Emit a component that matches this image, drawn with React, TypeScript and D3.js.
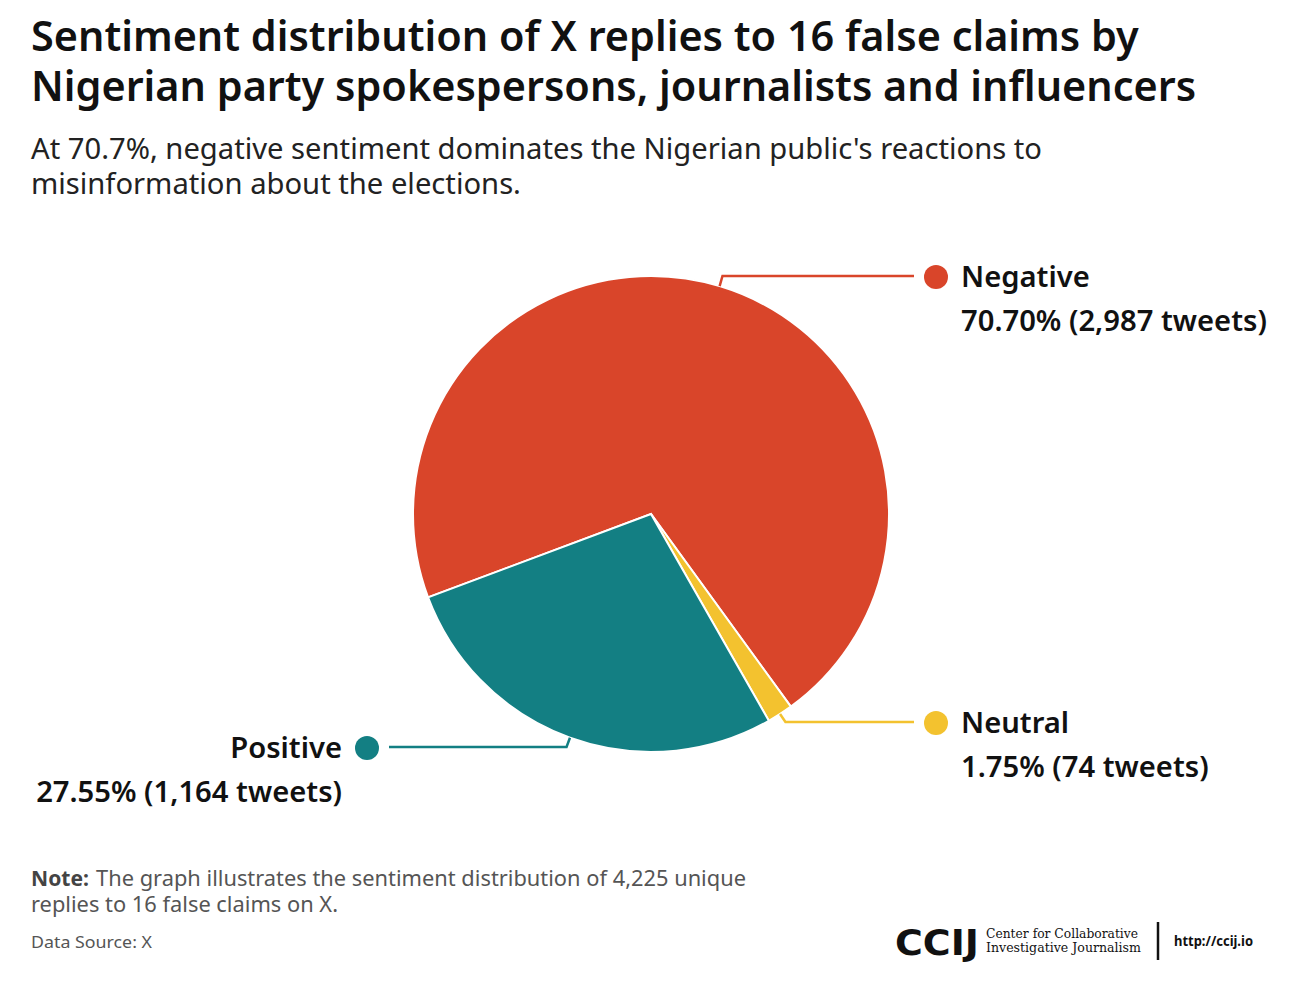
import React from "react";
import * as d3 from "d3";

const categories = ["Negative", "Neutral", "Positive"];
const tweetCounts = [2987, 74, 1164];
const percentLabels = ["70.70%", "1.75%", "27.55%"];
const countLabels = ["2,987", "74", "1,164"];
const colors = ["#d9452a", "#f3c22f", "#137f83"];

const W = 1295;
const H = 987;
const cx = 651;
const cy = 514;
const R = 238;
const FONT = "'Noto Sans', 'Open Sans', sans-serif";

export default function App() {
  const startDeg = -110.5;
  const pie = d3
    .pie<number>()
    .sort(null)
    .value((d) => d)
    .startAngle((startDeg * Math.PI) / 180)
    .endAngle((startDeg * Math.PI) / 180 + 2 * Math.PI);
  const arcs = pie(tweetCounts);
  const arcGen = d3.arc<d3.PieArcDatum<number>>().innerRadius(0).outerRadius(R);

  const layout: Record<string, { dx: number; dy: number; side: "right" | "left" }> = {
    Negative: { dx: 936, dy: 277, side: "right" },
    Neutral: { dx: 936, dy: 723, side: "right" },
    Positive: { dx: 367, dy: 748, side: "left" },
  };

  return (
    <svg width={W} height={H} style={{ position: "absolute", left: 0, top: 0, background: "#fff" }}>
      <rect width={W} height={H} fill="#fff" />
      <g fontFamily={FONT} fill="#111">
        <text x={31} y={51} fontSize={41.4} fontWeight={600}>
          Sentiment distribution of X replies to 16 false claims by
        </text>
        <text x={31} y={101} fontSize={41.4} fontWeight={600}>
          Nigerian party spokespersons, journalists and influencers
        </text>
        <text x={31} y={159} fontSize={29.2} fill="#222">
          At 70.7%, negative sentiment dominates the Nigerian public's reactions to
        </text>
        <text x={31} y={194} fontSize={29.2} fill="#222">
          misinformation about the elections.
        </text>
      </g>

      <g>
        {arcs.map((a, i) => (
          <path
            key={categories[i]}
            d={arcGen(a) || ""}
            transform={`translate(${cx},${cy})`}
            fill={colors[i]}
            stroke="#fff"
            strokeWidth={2}
          />
        ))}
      </g>

      {arcs.map((a, i) => {
        const name = categories[i];
        const L = layout[name];
        const mid = (a.startAngle + a.endAngle) / 2;
        const p0 = [cx + R * Math.sin(mid), cy - R * Math.cos(mid)];
        const p1x = cx + (R + 10) * Math.sin(mid);
        const hy = L.dy - 1;
        const endX = L.side === "right" ? L.dx - 22 : L.dx + 22;
        const pts = `${p0[0]},${p0[1]} ${p1x},${hy} ${endX},${hy}`;
        const textX = L.side === "right" ? L.dx + 25 : L.dx - 25;
        const anchor = L.side === "right" ? "start" : "end";
        return (
          <g key={name}>
            <polyline points={pts} fill="none" stroke={colors[i]} strokeWidth={2.5} />
            <circle cx={L.dx} cy={L.dy} r={12} fill={colors[i]} />
            <text
              x={textX}
              y={L.dy + 10}
              fontFamily={FONT}
              fontSize={29.2}
              fontWeight={600}
              fill="#111"
              textAnchor={anchor}
            >
              {name}
            </text>
            <text
              x={L.side === "right" ? textX : 342}
              y={L.dy + 54}
              fontFamily={FONT}
              fontSize={29.2}
              fontWeight={600}
              fill="#111"
              textAnchor={anchor}
            >
              {`${percentLabels[i]} (${countLabels[i]} tweets)`}
            </text>
          </g>
        );
      })}

      <g fontFamily={FONT} fill="#555">
        <text x={31} y={886} fontSize={22} fontWeight={700} fill="#444" textLength={58} lengthAdjust="spacingAndGlyphs">
          Note:
        </text>
        <text x={96} y={886} fontSize={22} textLength={650} lengthAdjust="spacingAndGlyphs">
          The graph illustrates the sentiment distribution of 4,225 unique
        </text>
        <text x={31} y={912} fontSize={22} textLength={307} lengthAdjust="spacingAndGlyphs">
          replies to 16 false claims on X.
        </text>
        <text x={31} y={948} fontSize={17} textLength={121} lengthAdjust="spacingAndGlyphs">
          Data Source: X
        </text>
      </g>

      <g>
        <text x={895} y={955} fontFamily="'DejaVu Sans', sans-serif" fontWeight={900} fontSize={36} fill="#111" textLength={84} lengthAdjust="spacingAndGlyphs">
          CCIJ
        </text>
        <text x={986} y={938} fontFamily="'DejaVu Serif', serif" fontSize={13} fill="#111" textLength={152} lengthAdjust="spacingAndGlyphs">
          Center for Collaborative
        </text>
        <text x={986} y={952} fontFamily="'DejaVu Serif', serif" fontSize={13} fill="#111" textLength={155} lengthAdjust="spacingAndGlyphs">
          Investigative Journalism
        </text>
        <line x1={1158} x2={1158} y1={922} y2={960} stroke="#111" strokeWidth={2.5} />
        <text x={1174} y={946} fontFamily={FONT} fontWeight={700} fontSize={14} fill="#111" textLength={79} lengthAdjust="spacingAndGlyphs">
          http://ccij.io
        </text>
      </g>
    </svg>
  );
}
